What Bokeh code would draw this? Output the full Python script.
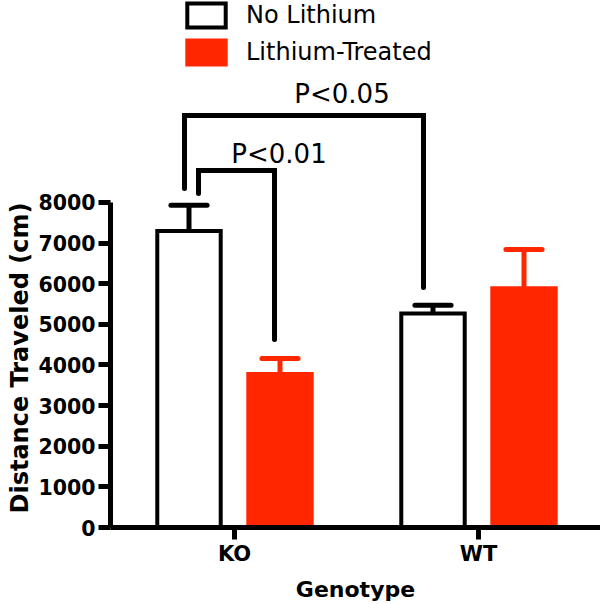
from bokeh.plotting import figure
from bokeh.models import Range1d, FixedTicker, Legend, LegendItem, Title
from bokeh.embed import file_html
from bokeh.resources import INLINE
from bokeh.core.properties import value

# ---- data ----
genotypes = ["KO", "WT"]
group_pos = [1, 2]
no_lithium_mean = [7300, 5270]
no_lithium_sem = [630, 200]
lithium_mean = [3780, 5890]
lithium_sem = [380, 950]

# significance brackets: x_left, x_right, y_top, y_left_end, y_right_end
brk_xl = [0.795, 0.8525]
brk_xr = [1.7746, 1.164]
brk_top = [10142, 8790]
brk_yl = [8345, 8220]
brk_yr = [5908, 4630]
brk_label = ["P<0.05", "P<0.01"]
brk_label_x = [1.4406, 1.1824]
brk_label_y = [10680, 9200]

y_ticks = [0, 1000, 2000, 3000, 4000, 5000, 6000, 7000, 8000]

RED = "#FF2600"
FONT = "DejaVu Sans"
offset = 0.1865
bar_w = 0.26
cap_w = 0.148

p = figure(width=600, height=604, output_backend="svg", toolbar_location=None,
           x_range=Range1d(0.4918, 2.5), y_range=Range1d(0, 12972),
           min_border_left=110, min_border_right=0, min_border_top=0, min_border_bottom=77)
p.outline_line_color = None
p.grid.visible = False

x_nl = [g - offset for g in group_pos]
x_li = [g + offset for g in group_pos]

r1 = p.vbar(x=x_nl, top=no_lithium_mean, bottom=0, width=bar_w, fill_color="white",
            line_color="black", line_width=4, line_join="miter")
r2 = p.vbar(x=x_li, top=lithium_mean, bottom=0, width=bar_w, fill_color=RED,
            line_color=RED, line_width=4, line_join="miter")

# error bars (upper only)
def err(xs, means, sems, color):
    tops = [m + s for m, s in zip(means, sems)]
    p.segment(x0=xs, y0=means, x1=xs, y1=tops, line_color=color, line_width=5)
    p.segment(x0=[x - cap_w / 2 for x in xs], y0=tops, x1=[x + cap_w / 2 for x in xs], y1=tops,
              line_color=color, line_width=5, line_cap="round")

err(x_nl, no_lithium_mean, no_lithium_sem, "black")
err(x_li, lithium_mean, lithium_sem, RED)

# brackets
xs = [[a, a, b, b] for a, b in zip(brk_xl, brk_xr)]
ys = [[yl, t, t, yr] for yl, t, yr in zip(brk_yl, brk_top, brk_yr)]
p.multi_line(xs=xs, ys=ys, line_color="black", line_width=5, line_cap="round", line_join="miter")
p.text(x=brk_label_x, y=brk_label_y, text=brk_label, text_font=value(FONT),
       text_font_size="26px", text_align="center", text_baseline="alphabetic", text_color="black")

# axes
p.yaxis.bounds = (0, 8000)
p.yaxis.ticker = FixedTicker(ticks=y_ticks)
p.xaxis.ticker = FixedTicker(ticks=group_pos)
p.xaxis.major_label_overrides = {g: n for g, n in zip(group_pos, genotypes)}
p.xaxis.axis_label = "Genotype"
for ax in (p.xaxis[0], p.yaxis[0]):
    ax.axis_line_width = 5
    ax.axis_line_color = "black"
    ax.major_tick_line_width = 5
    ax.major_tick_in = 0
    ax.major_tick_out = 12
    ax.minor_tick_line_color = None
    ax.major_label_text_font = FONT
    ax.major_label_text_font_style = "bold"
    ax.major_label_text_color = "black"
    ax.axis_label_text_font = FONT
    ax.axis_label_text_font_style = "bold"
    ax.axis_label_text_color = "black"
p.yaxis.major_label_text_font_size = "20.5px"
p.yaxis.major_label_standoff = 3
p.xaxis.major_label_text_font_size = "21px"
p.xaxis.major_label_standoff = 2
p.xaxis.axis_label_text_font_size = "22px"
p.xaxis.axis_label_standoff = 8

# y-axis title, spanning the 0-8000 part of the axis
ytitle = Title(text="Distance Traveled (cm)", align="left", offset=14, standoff=4,
               text_line_height=0.75,
               text_font=FONT, text_font_style="bold", text_font_size="24px", text_color="black")
p.add_layout(ytitle, "left")

legend = Legend(items=[LegendItem(label="No Lithium", renderers=[r1]),
                       LegendItem(label="Lithium-Treated", renderers=[r2])],
                location=(72, 460), border_line_color=None, background_fill_alpha=0,
                padding=0, margin=0, spacing=7, glyph_width=48, glyph_height=30,
                label_standoff=16, label_text_font=FONT, label_text_font_size="24px",
                label_text_color="black", label_height=22)
p.add_layout(legend, "center")

open("out.html", "w").write(file_html(p, INLINE))
